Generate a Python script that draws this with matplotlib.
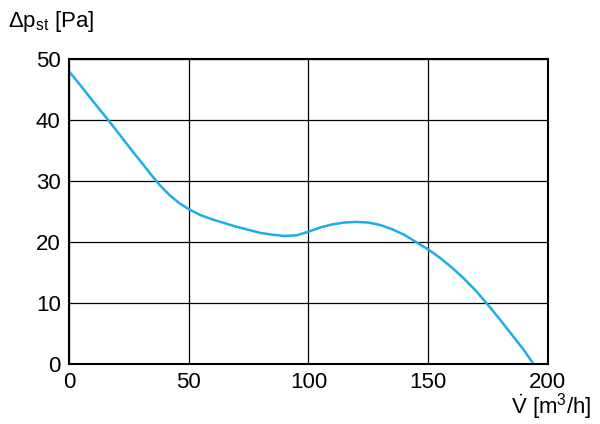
import matplotlib
matplotlib.use("Agg")
import matplotlib.pyplot as plt

# curve
flow = [0, 5, 10, 16.4, 20, 26.7, 30, 34, 38, 42, 46, 50, 55, 60, 65, 70, 75,
        80, 85, 90, 95, 100, 105, 110, 115, 120, 125, 130, 135, 140, 145, 150,
        155, 160, 165, 170, 175, 180, 185, 190, 194]
pressure = [48, 45.6, 43.1, 40, 38.2, 34.8, 33.2, 31.2, 29.3, 27.7, 26.4, 25.4,
            24.4, 23.7, 23.1, 22.5, 22.0, 21.5, 21.2, 21.0, 21.1, 21.7, 22.4,
            22.9, 23.2, 23.3, 23.2, 22.8, 22.1, 21.2, 20.0, 18.8, 17.4, 15.8,
            14.0, 12.0, 9.7, 7.3, 4.8, 2.3, 0]
xticks = [0, 50, 100, 150, 200]
yticks = [0, 10, 20, 30, 40, 50]

plt.rcParams['font.family'] = ['Liberation Sans', 'DejaVu Sans']
plt.rcParams['mathtext.fontset'] = 'custom'
plt.rcParams['mathtext.rm'] = 'Liberation Sans'
plt.rcParams['mathtext.it'] = 'Liberation Sans'

fig = plt.figure(figsize=(6, 4.24), dpi=100)
ax = fig.add_axes([0.115, 0.1415, 0.798, 0.719])
ax.plot(flow, pressure, color='#1eaee6', lw=1.8, solid_capstyle='butt')
ax.set_xlim(0, 200)
ax.set_ylim(0, 50)
ax.set_xticks(xticks)
ax.set_yticks(yticks)
ax.grid(True, color='black', lw=0.9)
for s in ax.spines.values():
    s.set_linewidth(1.5)
ax.tick_params(length=0, labelsize=16, pad=6)

fig.text(0.013, 0.95, r'$\Delta$p$_{\mathrm{st}}$ [Pa]', fontsize=16, va='center')
fig.text(0.985, 0.04, r'$\dot{\mathrm{V}}$ [m$^3$/h]', fontsize=16, ha='right', va='center')

fig.savefig('out.png', dpi=100)
